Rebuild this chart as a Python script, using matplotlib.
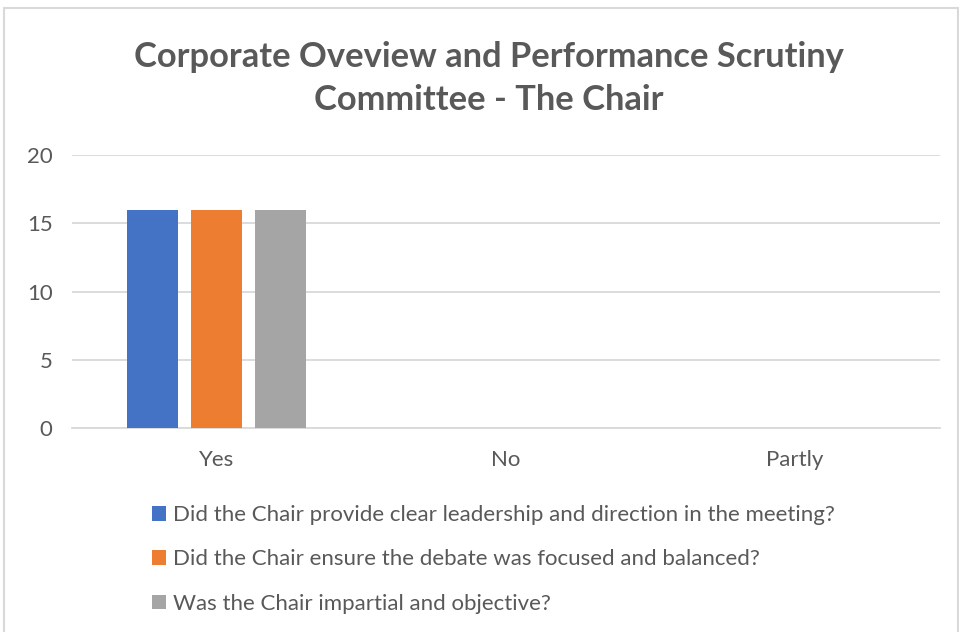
import numpy as np
import matplotlib
matplotlib.use("Agg")
import matplotlib.pyplot as plt
from matplotlib.patches import Rectangle

categories = ["Yes", "No", "Partly"]
series_names = [
    "Did the Chair provide clear leadership and direction in the meeting?",
    "Did the Chair ensure the debate was focused and balanced?",
    "Was the Chair impartial and objective?",
]
leadership = [16, 0, 0]
debate = [16, 0, 0]
impartial = [16, 0, 0]
colors = ["#4472C4", "#ED7D31", "#A5A5A5"]

plt.rcParams['font.family'] = ['Lato', 'DejaVu Sans']
text_color = "#595959"

fig = plt.figure(figsize=(9.59, 6.32), dpi=100)
ax = fig.add_axes([0.0751, 0.3228, 0.9049, 0.4319])

x = np.arange(len(categories))
width = 0.176
step = 0.221
for i, (vals, name) in enumerate(zip([leadership, debate, impartial], series_names)):
    ax.bar(x + (i - 1) * step, vals, width=width, color=colors[i], label=name, zorder=3)

ax.set_xlim(-0.5, 2.5)
ax.set_ylim(0, 20)
ax.set_yticks([0, 5, 10, 15, 20])
ax.set_xticks(x)
ax.set_xticklabels(categories)
ax.yaxis.grid(True, color="#D9D9D9", linewidth=1.3, zorder=0)
ax.tick_params(axis="both", length=0, labelsize=16, colors=text_color)
ax.tick_params(axis="x", pad=16)
ax.tick_params(axis="y", pad=14)
for s in ax.spines.values():
    s.set_visible(False)
ax.spines["bottom"].set_visible(True)
ax.spines["bottom"].set_color("#D9D9D9")
ax.spines["bottom"].set_linewidth(1.3)

fig.text(0.51, 0.876, "Corporate Oveview and Performance Scrutiny\nCommittee - The Chair",
         ha="center", va="center", fontsize=24.8, fontweight="bold", color=text_color,
         linespacing=1.42)

fig.legend(loc="upper left", bbox_to_anchor=(152 / 959, 0.201), frameon=False,
           fontsize=16, labelcolor=text_color, handlelength=0.65, handleheight=0.65,
           handletextpad=0.3, labelspacing=1.1, borderpad=0, borderaxespad=0)

fig.patches.append(Rectangle((4 / 959, -0.05), 954 / 959, 1 - 8 / 632 + 0.05,
                             transform=fig.transFigure, fill=False,
                             edgecolor="#D9D9D9", linewidth=1.5))

fig.savefig("out.png", dpi=100)
